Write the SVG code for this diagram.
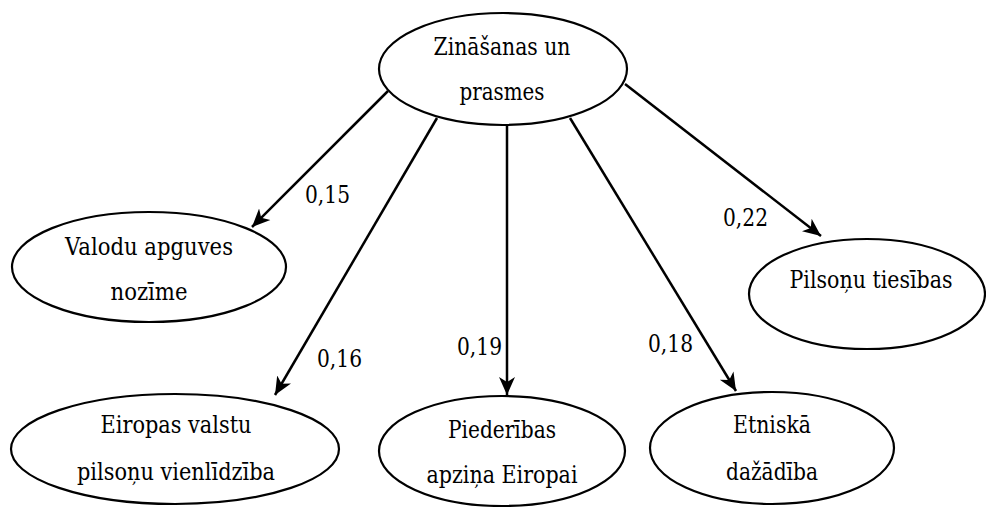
<svg xmlns="http://www.w3.org/2000/svg" width="986" height="507" viewBox="0 0 986 507">
  <style>
    .node ellipse { fill: #ffffff; stroke: #000000; stroke-width: 2.2; }
    .node text { text-anchor: middle; }
    .edge { stroke: #000000; stroke-width: 2.5; fill: none; marker-end: url(#arrow); }
  </style>
  <defs>
    <marker id="arrow" markerUnits="userSpaceOnUse" markerWidth="20" markerHeight="18" viewBox="0 -9 20 18" refX="18" refY="0" orient="auto">
      <path d="M0,-8 L18,0 L0,8 L5,0 z" fill="#000000"/>
    </marker>
  </defs>
  <rect width="986" height="507" fill="#ffffff"/>

  <g font-family="'DejaVu Serif', serif" font-size="25" fill="#000000">
  <!-- connectors and their weights -->
  <g id="edges">
    <line class="edge" x1="388" y1="91" x2="252" y2="227"/>
    <line class="edge" x1="437" y1="118" x2="275" y2="395"/>
    <line class="edge" x1="507" y1="126" x2="507" y2="395"/>
    <line class="edge" x1="570" y1="118" x2="736" y2="391"/>
    <line class="edge" x1="625" y1="84" x2="821" y2="236"/>
    <text x="305" y="203" textLength="45" lengthAdjust="spacingAndGlyphs">0,15</text>
    <text x="317" y="367" textLength="45" lengthAdjust="spacingAndGlyphs">0,16</text>
    <text x="457" y="355" textLength="45" lengthAdjust="spacingAndGlyphs">0,19</text>
    <text x="648" y="352" textLength="45" lengthAdjust="spacingAndGlyphs">0,18</text>
    <text x="723" y="226" textLength="45" lengthAdjust="spacingAndGlyphs">0,22</text>
  </g>

  <g id="node-zinasanas" class="node">
    <ellipse cx="503" cy="69" rx="124" ry="56"/>
    <text x="502" y="55" textLength="137" lengthAdjust="spacingAndGlyphs">Zināšanas un</text>
    <text x="502" y="100" textLength="85" lengthAdjust="spacingAndGlyphs">prasmes</text>
  </g>

  <g id="node-valodu" class="node">
    <ellipse cx="149" cy="267" rx="137" ry="55"/>
    <text x="149" y="255" textLength="168" lengthAdjust="spacingAndGlyphs">Valodu apguves</text>
    <text x="149" y="300" textLength="77" lengthAdjust="spacingAndGlyphs">nozīme</text>
  </g>

  <g id="node-pilsonu" class="node">
    <ellipse cx="867" cy="294" rx="118" ry="55"/>
    <text x="871" y="288" textLength="163" lengthAdjust="spacingAndGlyphs">Pilsoņu tiesības</text>
  </g>

  <g id="node-eiropas" class="node">
    <ellipse cx="175" cy="449" rx="164" ry="55"/>
    <text x="176" y="433" textLength="151" lengthAdjust="spacingAndGlyphs">Eiropas valstu</text>
    <text x="176" y="480" textLength="198" lengthAdjust="spacingAndGlyphs">pilsoņu vienlīdzība</text>
  </g>

  <g id="node-piederibas" class="node">
    <ellipse cx="502" cy="451" rx="123" ry="55"/>
    <text x="502" y="438" textLength="108" lengthAdjust="spacingAndGlyphs">Piederības</text>
    <text x="502" y="483" textLength="151" lengthAdjust="spacingAndGlyphs">apziņa Eiropai</text>
  </g>

  <g id="node-etniska" class="node">
    <ellipse cx="772" cy="448" rx="122" ry="56"/>
    <text x="772" y="433" textLength="78" lengthAdjust="spacingAndGlyphs">Etniskā</text>
    <text x="772" y="480" textLength="92" lengthAdjust="spacingAndGlyphs">dažādība</text>
  </g>
  </g>
</svg>
